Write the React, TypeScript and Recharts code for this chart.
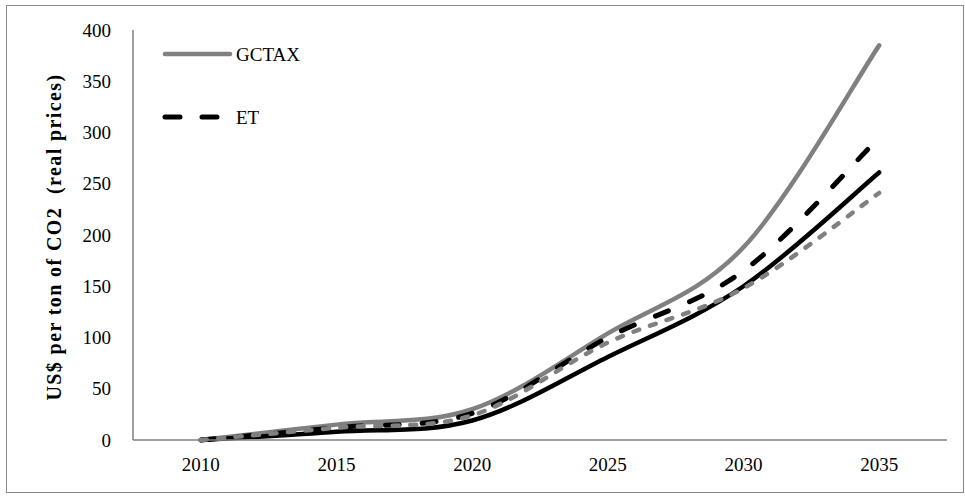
import React from "react"
import { LineChart, Line, XAxis, YAxis, Legend } from "recharts"

// years on the category axis
const years = [2010, 2015, 2020, 2025, 2030, 2035]

// carbon price paths, US$ per ton of CO2
const gctax = [0, 15, 30, 104, 188, 385]
const et = [0, 12, 26, 100, 165, 295]
const blackSolid = [0, 8, 19, 81, 150, 261]
const grayDashed = [0, 12, 24, 95, 148, 241]

const yTicks = [0, 50, 100, 150, 200, 250, 300, 350, 400]

const data = years.map((year, i) => ({
  year,
  gctax: gctax[i],
  et: et[i],
  blackSolid: blackSolid[i],
  grayDashed: grayDashed[i],
}))

const FONT = "'Liberation Serif', 'Times New Roman', serif"
const GRAY = "#808080"

const series = [
  { key: "gctax", name: "GCTAX", color: GRAY, width: 4.5, dash: undefined, inLegend: true },
  { key: "et", name: "ET", color: "#000", width: 5, dash: "14 23", inLegend: true },
  { key: "blackSolid", name: "Series 3", color: "#000", width: 4.5, dash: undefined, inLegend: false },
  { key: "grayDashed", name: "Series 4", color: GRAY, width: 4.5, dash: "6 11.5", inLegend: false },
]

// Excel-style smoothed line (Catmull-Rom through the points)
const smoothCurve = (context: any) => {
  let pts: number[][] = []
  return {
    areaStart() {},
    areaEnd() {},
    lineStart() {
      pts = []
    },
    point(x: number, y: number) {
      pts.push([+x, +y])
    },
    lineEnd() {
      if (!pts.length) return
      context.moveTo(pts[0][0], pts[0][1])
      for (let i = 0; i < pts.length - 1; i++) {
        const p0 = pts[i - 1] || pts[i]
        const p1 = pts[i]
        const p2 = pts[i + 1]
        const p3 = pts[i + 2] || p2
        context.bezierCurveTo(
          p1[0] + (p2[0] - p0[0]) / 6,
          p1[1] + (p2[1] - p0[1]) / 6,
          p2[0] - (p3[0] - p1[0]) / 6,
          p2[1] - (p3[1] - p1[1]) / 6,
          p2[0],
          p2[1]
        )
      }
    },
  }
}

function LegendBox() {
  const shown = series.filter((s) => s.inLegend)
  return (
    <svg width={200} height={100} style={{ display: "block" }}>
      {shown.map((s, i) => {
        const y = 19 + i * 63
        return (
          <g key={s.key}>
            <line
              x1={7}
              x2={s.dash ? 65 : 72}
              y1={y}
              y2={y}
              stroke={s.color}
              strokeWidth={s.width}
              strokeDasharray={s.dash ? "15 22" : undefined}
              strokeLinecap="round"
            />
            <text x={78} y={y} dy="0.35em" fontFamily={FONT} fontSize={19} fill="#000">
              {s.name}
            </text>
          </g>
        )
      })}
    </svg>
  )
}

export default function App() {
  return (
    <div style={{ position: "absolute", left: 0, top: 0, width: 965, height: 497, background: "#fff" }}>
      <div
        style={{
          position: "absolute",
          left: 6,
          top: 5,
          width: 958,
          height: 488,
          border: "1px solid #888",
          boxSizing: "border-box",
        }}
      />
      <div style={{ position: "absolute", left: 0, top: 0 }}>
        <LineChart width={965} height={497} data={data} margin={{ top: 30, right: 18, bottom: 0, left: 73 }}>
          <XAxis
            dataKey="year"
            type="number"
            domain={[2007.5, 2037.5]}
            ticks={years}
            tickLine={false}
            tickSize={0}
            tickMargin={18}
            axisLine={{ stroke: GRAY, strokeWidth: 1.5 }}
            tick={{ fontFamily: FONT, fontSize: 19, fill: "#000" }}
            height={57}
          />
          <YAxis
            domain={[0, 400]}
            ticks={yTicks}
            width={60}
            tickLine={false}
            tickSize={0}
            tickMargin={22}
            axisLine={{ stroke: GRAY, strokeWidth: 1.5 }}
            tick={{ fontFamily: FONT, fontSize: 19, fill: "#000" }}
          />
          <Legend
            layout="horizontal"
            verticalAlign="middle"
            align="center"
            wrapperStyle={{ left: 158, top: 35, width: 200, height: 100 }}
            content={() => <LegendBox />}
          />
          {series.map((s) => (
            <Line
              key={s.key}
              dataKey={s.key}
              name={s.name}
              type={smoothCurve as any}
              stroke={s.color}
              strokeWidth={s.width}
              strokeDasharray={s.dash}
              strokeLinecap="round"
              dot={false}
              activeDot={false}
              legendType={s.inLegend ? "line" : "none"}
              isAnimationActive={false}
            />
          ))}
        </LineChart>
      </div>
      <div
        style={{
          position: "absolute",
          left: 54 - 180,
          top: 237 - 12,
          width: 360,
          height: 24,
          lineHeight: "24px",
          textAlign: "center",
          transform: "rotate(-90deg)",
          fontFamily: FONT,
          fontWeight: "bold",
          fontSize: 20,
          letterSpacing: 1.4,
          whiteSpace: "pre",
        }}
      >
        US$ per ton of CO2  (real prices)
      </div>
    </div>
  )
}
